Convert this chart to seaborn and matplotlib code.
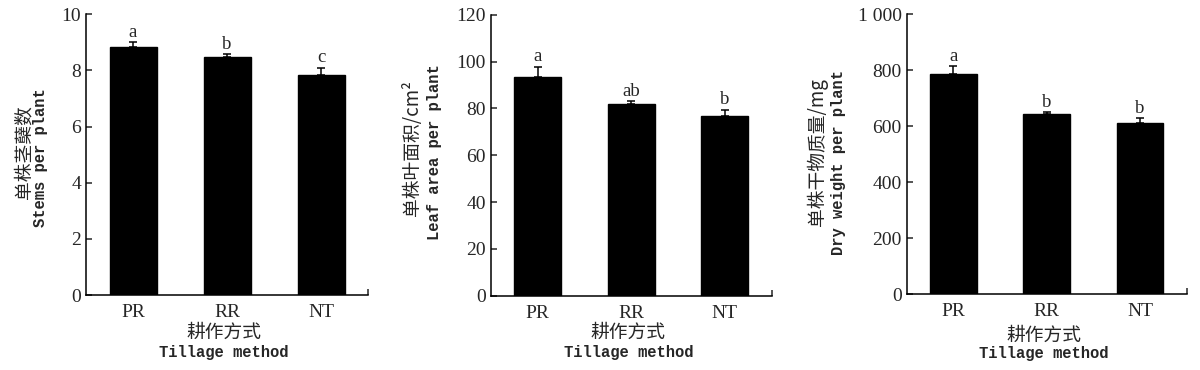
import numpy as np
import matplotlib
matplotlib.use("Agg")
import matplotlib.pyplot as plt
import seaborn as sns

# data
methods = ["PR", "RR", "NT"]
stems = [8.83, 8.48, 7.84]
stems_err = [0.17, 0.10, 0.26]
stems_sig = ["a", "b", "c"]
leaf = [93.5, 81.8, 76.7]
leaf_err = [4.3, 1.3, 2.7]
leaf_sig = ["a", "ab", "b"]
dry = [787, 644, 612]
dry_err = [28, 7, 16]
dry_sig = ["a", "b", "b"]

sns.set_style("ticks")
plt.rcParams["font.family"] = ["Liberation Serif", "Noto Sans CJK SC"]

SERIF = ["Liberation Serif", "Noto Sans CJK SC"]
MONO = ["Liberation Mono", "Noto Sans CJK SC"]
CJK = ["Noto Sans CJK SC", "Liberation Serif"]

fig = plt.figure(figsize=(12, 3.7), dpi=100)

panels = [
    dict(rect=[0.0717, 0.2027, 0.235, 0.759], vals=stems, err=stems_err, sig=stems_sig,
         ylim=10, yticks=[0, 2, 4, 6, 8, 10], ylabels=None,
         cn="单株茎蘖数", en="Stems per plant",
         cnpos=(-0.22, 0.51), enpos=(-0.16, 0.49), xcn=-0.132, xen=-0.203),
    dict(rect=[0.409, 0.2008, 0.234, 0.759], vals=leaf, err=leaf_err, sig=leaf_sig,
         ylim=120, yticks=[0, 20, 40, 60, 80, 100, 120], ylabels=None,
         cn="单株叶面积/cm²", en="Leaf area per plant",
         cnpos=(-0.278, 0.526), enpos=(-0.20, 0.512), xcn=-0.132, xen=-0.203),
    dict(rect=[0.7556, 0.2046, 0.2333, 0.757], vals=dry, err=dry_err, sig=dry_sig,
         ylim=1000, yticks=[0, 200, 400, 600, 800, 1000],
         ylabels=["0", "200", "400", "600", "800", "1 000"],
         cn="单株干物质量/mg", en="Dry weight per plant",
         cnpos=(-0.32, 0.508), enpos=(-0.242, 0.47), xcn=-0.147, xen=-0.211),
]

for p in panels:
    ax = fig.add_axes(p["rect"])
    sns.barplot(x=methods, y=p["vals"], color="black", width=0.5,
                errorbar=None, ax=ax, saturation=1)
    for patch in ax.patches:
        patch.set_edgecolor("black")
    x = np.arange(len(methods))
    ax.errorbar(x, p["vals"], yerr=[np.zeros(len(x)), p["err"]], fmt="none",
                ecolor="black", elinewidth=1.1, capsize=2.6, capthick=1.1)
    for xi, v, e, s in zip(x, p["vals"], p["err"], p["sig"]):
        ax.annotate(s, (xi, v + e), xytext=(0, 1), textcoords="offset points",
                    ha="center", va="bottom", fontsize=13.5, family=SERIF)

    ax.set_xlim(-0.5, 2.5)
    ax.set_ylim(0, p["ylim"])
    ax.set_yticks(p["yticks"])
    if p["ylabels"] is not None:
        ax.set_yticklabels(p["ylabels"])
    ax.set_xticks(x)
    ax.set_xticklabels(methods)
    ax.set_xticks([2.5], minor=True)
    ax.tick_params(axis="x", which="major", length=0, pad=6.5, labelsize=14)
    ax.tick_params(axis="x", which="minor", direction="in", length=4.3, width=1.1)
    ax.tick_params(axis="y", direction="in", length=4.3, width=1.1, pad=3.5, labelsize=14)
    ax.set_xlabel("")
    ax.set_ylabel("")
    sns.despine(ax=ax)
    for side in ["left", "bottom"]:
        ax.spines[side].set_linewidth(1.1)
        ax.spines[side].set_color("black")

    ax.text(p["cnpos"][0], p["cnpos"][1], p["cn"], transform=ax.transAxes,
            rotation=90, ha="center", va="center", fontsize=13.5, family=CJK,
            fontweight="medium")
    ax.text(p["enpos"][0], p["enpos"][1], p["en"], transform=ax.transAxes,
            rotation=90, ha="center", va="center", fontsize=11.2, family=MONO,
            fontweight="bold")
    ax.text(0.49, p["xcn"], "耕作方式", transform=ax.transAxes,
            ha="center", va="center", fontsize=13.5, family=CJK, fontweight="medium")
    ax.text(0.49, p["xen"], "Tillage method", transform=ax.transAxes,
            ha="center", va="center", fontsize=11.2, family=MONO, fontweight="bold")

fig.savefig("out.png", dpi=100)
